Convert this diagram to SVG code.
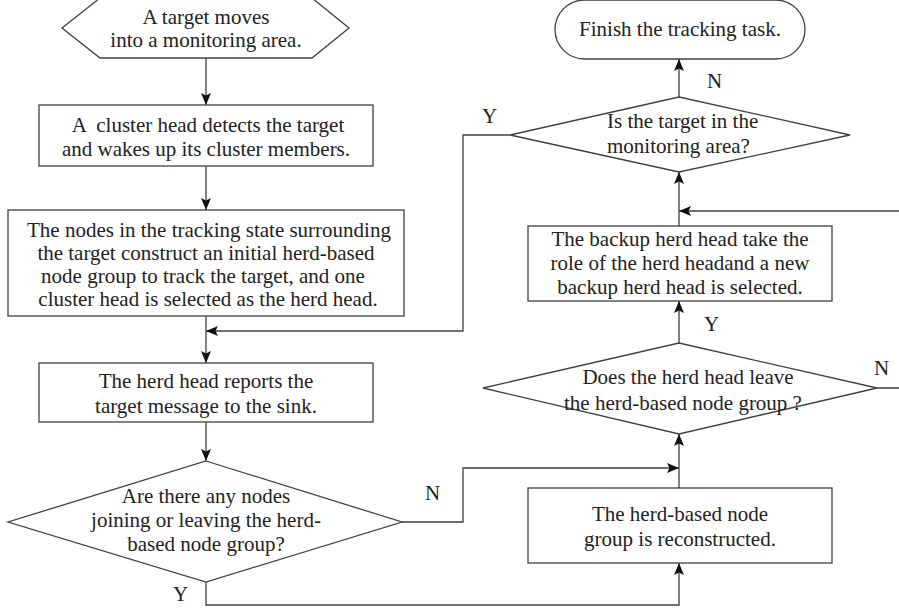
<svg xmlns="http://www.w3.org/2000/svg" width="899" height="611" viewBox="0 0 899 611">
<style>
.s{fill:#fff;stroke:#404040;stroke-width:1.3}
.c{fill:none;stroke:#404040;stroke-width:1.3}
.t{font-family:"Liberation Serif","Times New Roman",serif;font-size:21px;fill:#222;text-anchor:middle}
.l{font-family:"Liberation Serif","Times New Roman",serif;font-size:21px;fill:#222}
</style>
<defs>
<marker id="a" markerUnits="userSpaceOnUse" markerWidth="13" markerHeight="11" refX="12" refY="5" orient="auto">
<path d="M0,0 L12,5 L0,10 L2.5,5 z" fill="#111"/>
</marker>
</defs>
<rect width="899" height="611" fill="#fff"/>
<g id="connectors">
<path class="c" d="M206,58 V105" marker-end="url(#a)"/>
<path class="c" d="M206,166 V210" marker-end="url(#a)"/>
<path class="c" d="M206,316 V363" marker-end="url(#a)"/>
<path class="c" d="M206,422 V461" marker-end="url(#a)"/>
<path class="c" d="M402,522 H463 V468 H679" marker-end="url(#a)"/>
<path class="c" d="M206,582 V605 H679 V563" marker-end="url(#a)"/>
<path class="c" d="M679,488 V434" marker-end="url(#a)"/>
<path class="c" d="M679,343 V301" marker-end="url(#a)"/>
<path class="c" d="M877,388 H906 V211 H679" marker-end="url(#a)"/>
<path class="c" d="M679,226 V172" marker-end="url(#a)"/>
<path class="c" d="M679,97 V59" marker-end="url(#a)"/>
<path class="c" d="M510,135 H463 V331 H206" marker-end="url(#a)"/>
<text class="l" x="425" y="500">N</text>
<text class="l" x="173" y="601">Y</text>
<text class="l" x="874" y="375">N</text>
<text class="l" x="704" y="331">Y</text>
<text class="l" x="482" y="123">Y</text>
<text class="l" x="707" y="88">N</text>
</g>
<g id="start">
<polygon class="s" points="100,-2 312,-2 349,28 312,58 100,58 62,28"/>
<text class="t" x="206" y="24">A target moves</text>
<text class="t" x="206" y="47">into a monitoring area.</text>
</g>
<g id="detect">
<rect class="s" x="39" y="105" width="334" height="61"/>
<text class="t" x="208" y="132" xml:space="preserve">A  cluster head detects the target</text>
<text class="t" x="206" y="156">and wakes up its cluster members.</text>
</g>
<g id="construct">
<rect class="s" x="8" y="210" width="396" height="106"/>
<text class="t" x="209" y="237">The nodes in the tracking state surrounding</text>
<text class="t" x="206" y="260">the target construct an initial herd-based</text>
<text class="t" x="203" y="283">node group to track the target, and one</text>
<text class="t" x="208" y="306">cluster head is selected as the herd head.</text>
</g>
<g id="report">
<rect class="s" x="39" y="363" width="334" height="59"/>
<text class="t" x="206" y="388">The herd head reports the</text>
<text class="t" x="206" y="413">target message to the sink.</text>
</g>
<g id="joinleave">
<polygon class="s" points="206,461 402,522 206,582 8,522"/>
<text class="t" x="206" y="503">Are there any nodes</text>
<text class="t" x="206" y="527">joining or leaving the herd-</text>
<text class="t" x="206" y="551">based node group?</text>
</g>
<g id="reconstruct">
<rect class="s" x="528" y="488" width="304" height="75"/>
<text class="t" x="680" y="521">The herd-based node</text>
<text class="t" x="680" y="546">group is reconstructed.</text>
</g>
<g id="leave">
<polygon class="s" points="679,343 877,388 679,434 483,388"/>
<text class="t" x="688" y="384">Does the herd head leave</text>
<text class="t" x="683" y="410">the herd-based node group ?</text>
</g>
<g id="backup">
<rect class="s" x="528" y="226" width="304" height="75"/>
<text class="t" x="680" y="246">The backup herd head take the</text>
<text class="t" x="680" y="270">role of the herd headand a new</text>
<text class="t" x="680" y="294">backup herd head is selected.</text>
</g>
<g id="inarea">
<polygon class="s" points="679,97 850,135 679,172 510,135"/>
<text class="l" x="607" y="128">Is the target in the</text>
<text class="l" x="607" y="153">monitoring area?</text>
</g>
<g id="finish">
<rect class="s" x="555" y="0" width="250" height="59" rx="29.5" ry="29.5"/>
<text class="t" x="680" y="36">Finish the tracking task.</text>
</g>
</svg>
